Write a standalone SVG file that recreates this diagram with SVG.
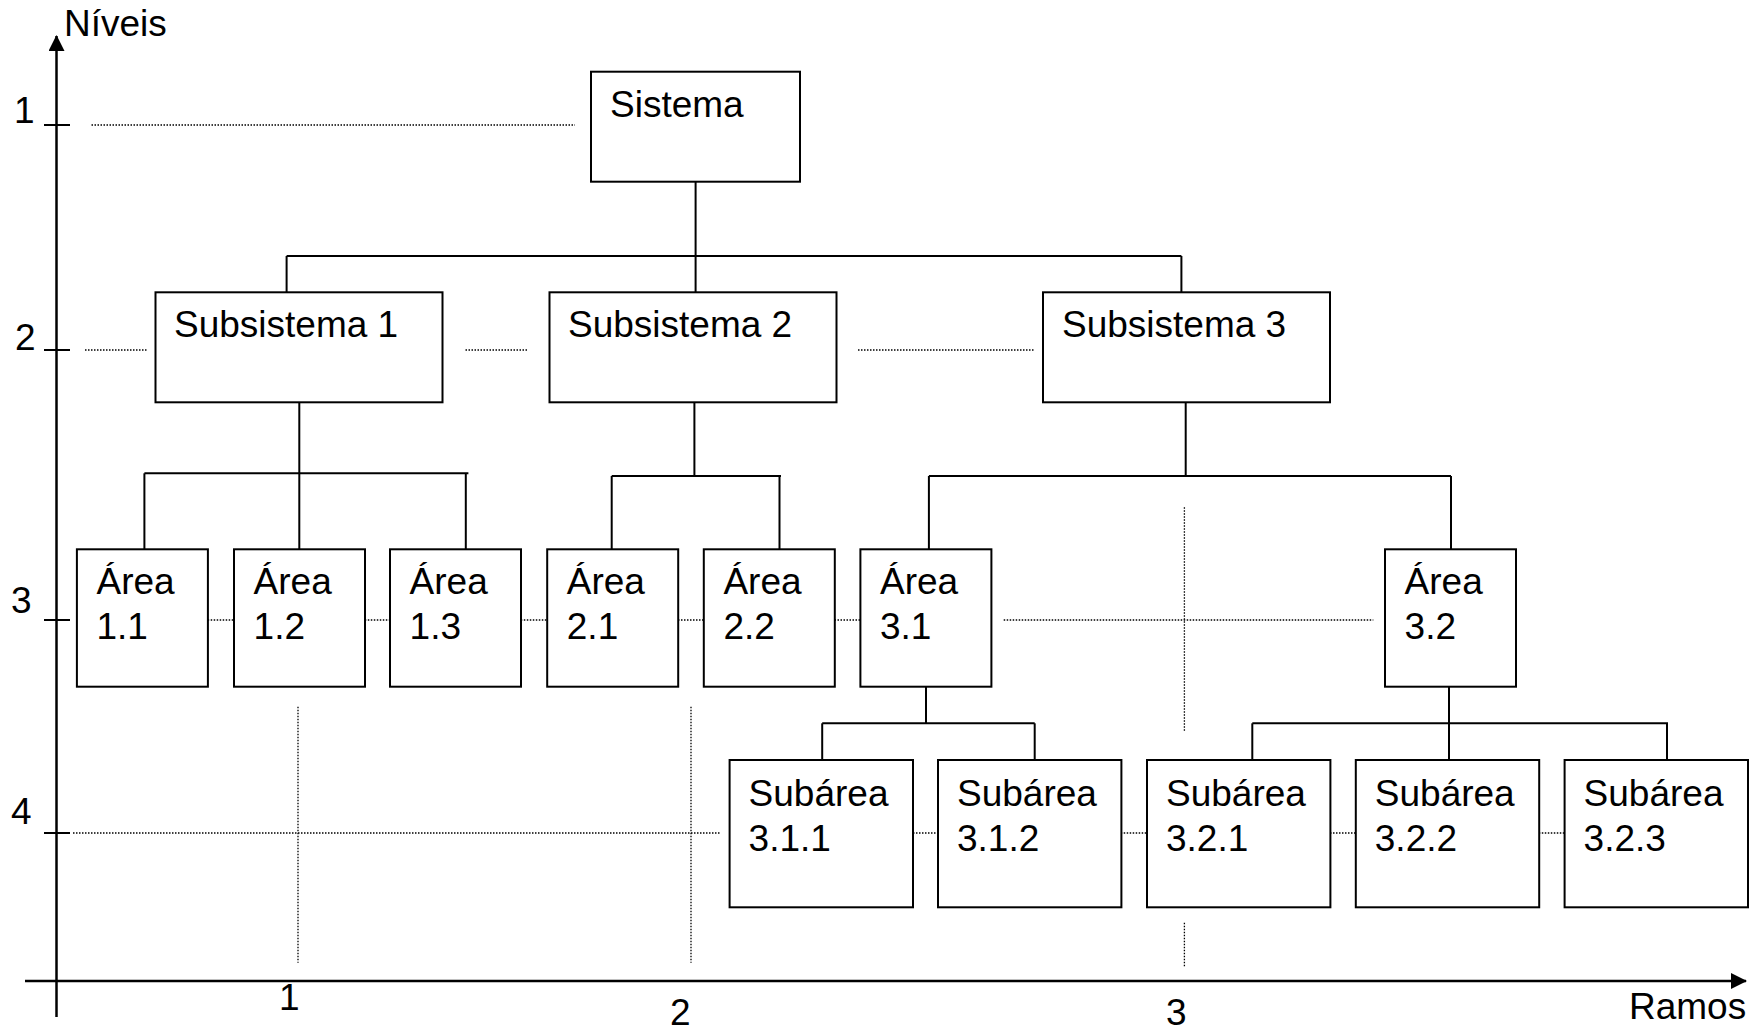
<svg xmlns="http://www.w3.org/2000/svg" width="1757" height="1030" viewBox="0 0 1757 1030">
  <style>
    text { font-family: "Liberation Sans", Arial, sans-serif; font-size: 37px; fill: #000; }
    .box { fill: #fff; stroke: #000; stroke-width: 2; }
    .link { stroke: #000; stroke-width: 2; fill: none; }
    .guide { stroke: #000; stroke-width: 1.3; stroke-dasharray: 1.5 1.5; fill: none; }
    .axis { stroke: #000; stroke-width: 2.5; fill: none; }
    .tick { stroke: #000; stroke-width: 2; }
  </style>
  <defs>
    <marker id="arrow" viewBox="0 0 16 16" refX="15" refY="8" markerWidth="16" markerHeight="16" orient="auto" markerUnits="userSpaceOnUse">
      <path d="M0,0 L16,8 L0,16 Z" fill="#000"/>
    </marker>
  </defs>

  <rect width="1757" height="1030" fill="#fff"/>

  <!-- axes -->
  <g id="axes">
    <line class="axis" x1="56.5" y1="1017" x2="56.5" y2="36" marker-end="url(#arrow)"/>
    <line class="axis" x1="25" y1="981" x2="1746" y2="981" marker-end="url(#arrow)"/>
    <line class="tick" x1="44" y1="125" x2="70" y2="125"/>
    <line class="tick" x1="44" y1="350" x2="70" y2="350"/>
    <line class="tick" x1="44" y1="620" x2="70" y2="620"/>
    <line class="tick" x1="44" y1="833" x2="70" y2="833"/>
    <text x="64" y="36">Níveis</text>
    <text x="1629" y="1019">Ramos</text>
    <text x="14" y="123">1</text>
    <text x="15" y="350">2</text>
    <text x="11" y="613">3</text>
    <text x="11" y="824">4</text>
    <text x="279" y="1010">1</text>
    <text x="670" y="1025">2</text>
    <text x="1166" y="1025">3</text>
  </g>

  <!-- level and branch guides -->
  <g id="guides">
    <line class="guide" x1="91.5" y1="125" x2="575" y2="125"/>
    <line class="guide" x1="85" y1="350" x2="147.5" y2="350"/>
    <line class="guide" x1="465.5" y1="350" x2="528" y2="350"/>
    <line class="guide" x1="858" y1="350" x2="1035" y2="350"/>
    <line class="guide" x1="207.7" y1="620" x2="234" y2="620"/>
    <line class="guide" x1="364.8" y1="620" x2="390" y2="620"/>
    <line class="guide" x1="520.8" y1="620" x2="547.2" y2="620"/>
    <line class="guide" x1="678" y1="620" x2="703.8" y2="620"/>
    <line class="guide" x1="834.5" y1="620" x2="860.4" y2="620"/>
    <line class="guide" x1="1003.7" y1="620" x2="1373.3" y2="620"/>
    <line class="guide" x1="73" y1="833" x2="721" y2="833"/>
    <line class="guide" x1="913" y1="833" x2="938" y2="833"/>
    <line class="guide" x1="1120.7" y1="833" x2="1147" y2="833"/>
    <line class="guide" x1="1330" y1="833" x2="1355.8" y2="833"/>
    <line class="guide" x1="1538.8" y1="833" x2="1564.6" y2="833"/>
    <line class="guide" x1="298" y1="706.7" x2="298" y2="962.7"/>
    <line class="guide" x1="691" y1="706.7" x2="691" y2="962.7"/>
    <line class="guide" x1="1184.4" y1="507.3" x2="1184.4" y2="731.7"/>
    <line class="guide" x1="1184.4" y1="922.7" x2="1184.4" y2="966.7"/>
  </g>

  <!-- tree connectors -->
  <g id="connectors">
    <line class="link" x1="695.6" y1="181.7" x2="695.6" y2="292.3"/>
    <line class="link" x1="286.6" y1="256" x2="1181.4" y2="256"/>
    <line class="link" x1="286.6" y1="256" x2="286.6" y2="292.3"/>
    <line class="link" x1="1181.4" y1="256" x2="1181.4" y2="292.3"/>

    <line class="link" x1="299.3" y1="402.3" x2="299.3" y2="549.3"/>
    <line class="link" x1="144.4" y1="473.3" x2="468.4" y2="473.3"/>
    <line class="link" x1="144.4" y1="473.3" x2="144.4" y2="549.3"/>
    <line class="link" x1="465.8" y1="473.3" x2="465.8" y2="549.3"/>

    <line class="link" x1="694.4" y1="402.3" x2="694.4" y2="476"/>
    <line class="link" x1="611.7" y1="476" x2="781" y2="476"/>
    <line class="link" x1="611.7" y1="476" x2="611.7" y2="549.3"/>
    <line class="link" x1="779.5" y1="476" x2="779.5" y2="549.3"/>

    <line class="link" x1="1185.7" y1="402.3" x2="1185.7" y2="476"/>
    <line class="link" x1="928.9" y1="476" x2="1451" y2="476"/>
    <line class="link" x1="928.9" y1="476" x2="928.9" y2="549.3"/>
    <line class="link" x1="1451" y1="476" x2="1451" y2="549.3"/>

    <line class="link" x1="926" y1="686.7" x2="926" y2="723.3"/>
    <line class="link" x1="822.2" y1="723.3" x2="1034.7" y2="723.3"/>
    <line class="link" x1="822.2" y1="723.3" x2="822.2" y2="760"/>
    <line class="link" x1="1034.7" y1="723.3" x2="1034.7" y2="760"/>

    <line class="link" x1="1449" y1="686.7" x2="1449" y2="760"/>
    <line class="link" x1="1252.3" y1="723.3" x2="1668" y2="723.3"/>
    <line class="link" x1="1252.3" y1="723.3" x2="1252.3" y2="760"/>
    <line class="link" x1="1667" y1="723.3" x2="1667" y2="760"/>
  </g>

  <!-- level 1 -->
  <g id="sistema">
    <rect class="box" x="591" y="71.7" width="209" height="110"/>
    <text x="610" y="117">Sistema</text>
  </g>

  <!-- level 2 -->
  <g id="subsistema-1">
    <rect class="box" x="155.5" y="292.3" width="287" height="110"/>
    <text x="174" y="336.7">Subsistema 1</text>
  </g>
  <g id="subsistema-2">
    <rect class="box" x="549.5" y="292.3" width="287" height="110"/>
    <text x="568" y="336.7">Subsistema 2</text>
  </g>
  <g id="subsistema-3">
    <rect class="box" x="1043" y="292.3" width="287" height="110"/>
    <text x="1062" y="336.7">Subsistema 3</text>
  </g>

  <!-- level 3 -->
  <g id="area-1-1">
    <rect class="box" x="76.9" y="549.3" width="131" height="137.4"/>
    <text x="96.5" y="594.3">Área</text>
    <text x="96.5" y="639.3">1.1</text>
  </g>
  <g id="area-1-2">
    <rect class="box" x="234" y="549.3" width="131" height="137.4"/>
    <text x="253.6" y="594.3">Área</text>
    <text x="253.6" y="639.3">1.2</text>
  </g>
  <g id="area-1-3">
    <rect class="box" x="390" y="549.3" width="131" height="137.4"/>
    <text x="409.6" y="594.3">Área</text>
    <text x="409.6" y="639.3">1.3</text>
  </g>
  <g id="area-2-1">
    <rect class="box" x="547.2" y="549.3" width="131" height="137.4"/>
    <text x="566.8" y="594.3">Área</text>
    <text x="566.8" y="639.3">2.1</text>
  </g>
  <g id="area-2-2">
    <rect class="box" x="703.8" y="549.3" width="131" height="137.4"/>
    <text x="723.4" y="594.3">Área</text>
    <text x="723.4" y="639.3">2.2</text>
  </g>
  <g id="area-3-1">
    <rect class="box" x="860.4" y="549.3" width="131" height="137.4"/>
    <text x="880" y="594.3">Área</text>
    <text x="880" y="639.3">3.1</text>
  </g>
  <g id="area-3-2">
    <rect class="box" x="1385" y="549.3" width="131" height="137.4"/>
    <text x="1404.6" y="594.3">Área</text>
    <text x="1404.6" y="639.3">3.2</text>
  </g>

  <!-- level 4 -->
  <g id="subarea-3-1-1">
    <rect class="box" x="729.6" y="760" width="183.4" height="147.3"/>
    <text x="748.6" y="805.5">Subárea</text>
    <text x="748.6" y="850.5">3.1.1</text>
  </g>
  <g id="subarea-3-1-2">
    <rect class="box" x="938" y="760" width="183.4" height="147.3"/>
    <text x="957" y="805.5">Subárea</text>
    <text x="957" y="850.5">3.1.2</text>
  </g>
  <g id="subarea-3-2-1">
    <rect class="box" x="1147" y="760" width="183.4" height="147.3"/>
    <text x="1166" y="805.5">Subárea</text>
    <text x="1166" y="850.5">3.2.1</text>
  </g>
  <g id="subarea-3-2-2">
    <rect class="box" x="1355.8" y="760" width="183.4" height="147.3"/>
    <text x="1374.8" y="805.5">Subárea</text>
    <text x="1374.8" y="850.5">3.2.2</text>
  </g>
  <g id="subarea-3-2-3">
    <rect class="box" x="1564.6" y="760" width="183.4" height="147.3"/>
    <text x="1583.6" y="805.5">Subárea</text>
    <text x="1583.6" y="850.5">3.2.3</text>
  </g>
</svg>
